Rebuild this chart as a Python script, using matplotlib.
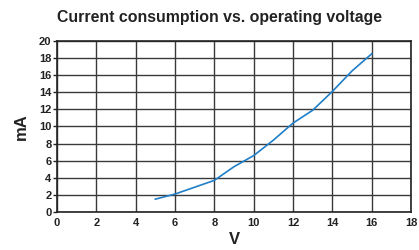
import matplotlib
matplotlib.use("Agg")
import matplotlib.pyplot as plt

voltage = [5, 6, 7, 8, 9, 10, 11, 12, 13, 14, 15, 16]
current = [1.5, 2.1, 2.9, 3.7, 5.3, 6.6, 8.4, 10.4, 11.9, 14.1, 16.5, 18.5]
x_ticks = [0, 2, 4, 6, 8, 10, 12, 14, 16, 18]
y_ticks = [0, 2, 4, 6, 8, 10, 12, 14, 16, 18, 20]

plt.rcParams['font.family'] = ['Liberation Sans', 'DejaVu Sans']

fig = plt.figure(figsize=(4.19, 2.50), dpi=100)
ax = fig.add_axes([0.136, 0.152, 0.845, 0.684])
ax.plot(voltage, current, color='#1f7fc8', linewidth=1.2, zorder=3)
ax.set_xlim(0, 18)
ax.set_ylim(0, 20)
ax.set_xticks(x_ticks)
ax.set_yticks(y_ticks)
ax.grid(True, color='#3a3a3a', linewidth=1.0)
ax.set_axisbelow(True)
for s in ax.spines.values():
    s.set_color('#222222')
    s.set_linewidth(1.2)
ax.tick_params(axis='y', length=3, width=1, pad=1, labelsize=8, colors='#222222')
ax.tick_params(axis='x', length=0, pad=4, labelsize=8, colors='#222222')
for lbl in ax.get_xticklabels() + ax.get_yticklabels():
    lbl.set_fontweight('bold')
ax.set_xlabel('V', fontsize=12, fontweight='bold', color='#222222', labelpad=3)
ax.set_ylabel('mA', fontsize=12, fontweight='bold', color='#222222', labelpad=7)
fig.text(0.525, 0.93, 'Current consumption vs. operating voltage', ha='center', va='center',
         fontsize=11.4, fontweight='bold', color='#222222')
fig.savefig('out.png', dpi=100)
